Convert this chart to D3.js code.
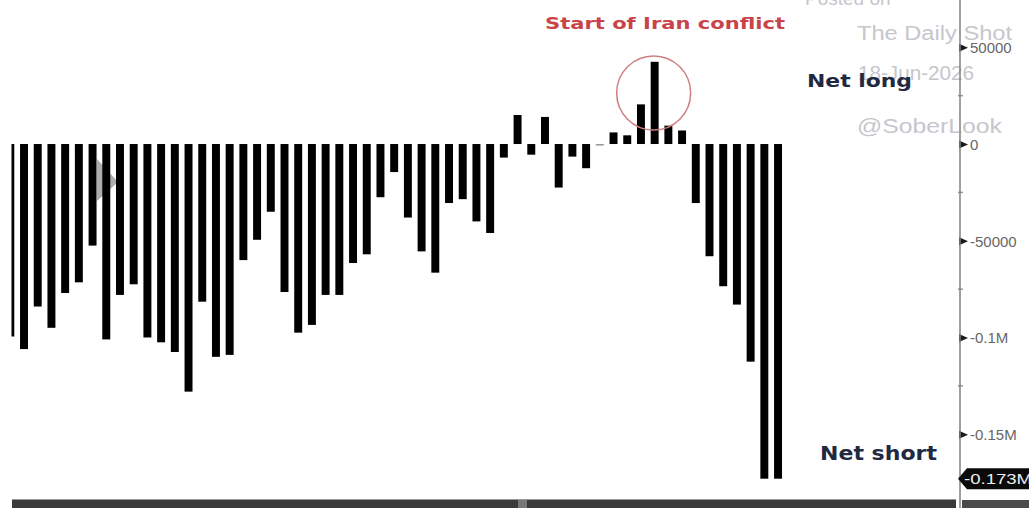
<!DOCTYPE html>
<html>
<head>
<meta charset="utf-8">
<script src="https://cdn.jsdelivr.net/npm/d3@7"></script>
<style>
    body { margin: 0; background: #fff; }
    svg { display: block; }
    .tick text { font-family: "Liberation Sans", Arial, sans-serif; }
</style>
</head>
<body>
<svg id="chart" width="1029" height="508"></svg>
<script>
// weekly net positioning (contracts)
var netPositions = [
    -99500, -106000, -84000, -95000, -77000, -71500, -52500, -101000, -78000, -72500,
    -100000, -102500, -107500, -128000, -81500, -110000, -109000, -60000, -49500, -35000,
    -76500, -97500, -93500, -78000, -78000, -61500, -57000, -27500, -14500, -38000,
    -55500, -66500, -30500, -28500, -40000, -46000, -7000, 15000, -5500, 14000,
    -22500, -6500, -12500, -800, 6000, 4500, 20500, 42500, 9500, 7000,
    -30500, -58000, -73500, -83000, -112500, -173000, -173000
];
var majorTicks = [50000, 0, -50000, -100000, -150000];
var tickLabels = ['50000', '0', '-50000', '-0.1M', '-0.15M'];
var minorTicks = [25000, -25000, -75000, -125000];
var lastLabel = '-0.173M';
var eventIndex = 47; // spike at start of conflict

var svg = d3.select('#chart');

var x = d3.scaleBand()
    .domain(d3.range(netPositions.length))
    .range([3.45, 784.9])
    .paddingInner(0.42)
    .paddingOuter(0.21);

var y = d3.scaleLinear()
    .domain([-150000, 50000])
    .range([434.2, 47.3]);

var axisX = 960;

svg.append('defs').append('clipPath')
    .attr('id', 'plotClip')
    .append('rect')
    .attr('x', 11.5).attr('y', 0)
    .attr('width', axisX - 11.5).attr('height', 508);

// watermark text
var wm = svg.append('g')
    .attr('fill', '#c6c6cc')
    .style('font-family', '"Liberation Sans", Arial, sans-serif');
wm.append('text').attr('x', 805).attr('y', 5).attr('font-size', 19).text('Posted on');
wm.append('text').attr('x', 857).attr('y', 40).attr('font-size', 20)
    .attr('textLength', 155).attr('lengthAdjust', 'spacingAndGlyphs').text('The Daily Shot');
wm.append('text').attr('x', 858).attr('y', 80).attr('font-size', 20)
    .attr('textLength', 116).attr('lengthAdjust', 'spacingAndGlyphs').text('18-Jun-2026');
wm.append('text').attr('x', 857).attr('y', 133).attr('font-size', 20)
    .attr('textLength', 145).attr('lengthAdjust', 'spacingAndGlyphs').text('@SoberLook');

var plot = svg.append('g').attr('clip-path', 'url(#plotClip)');

// faint play-arrow artefact behind the bars
plot.append('path')
    .attr('d', 'M97,159 L118,182 L97,201 Z')
    .attr('fill', '#8a8a8a')
    .attr('opacity', 0.7);

plot.selectAll('rect.bar')
    .data(netPositions)
    .enter()
    .append('rect')
    .attr('class', 'bar')
    .attr('x', function (d, i) { return x(i); })
    .attr('width', x.bandwidth())
    .attr('y', function (d) { return y(Math.max(0, d)); })
    .attr('height', function (d) { return Math.abs(y(d) - y(0)); })
    .attr('fill', function (d) { return Math.abs(d) < 2000 ? '#999' : '#000'; });

// annotation circle round the spike
svg.append('circle')
    .attr('cx', x(eventIndex) + x.bandwidth() / 2 - 1)
    .attr('cy', 93)
    .attr('r', 37)
    .attr('fill', 'none')
    .attr('stroke', '#cf7f80')
    .attr('stroke-width', 1.5);

svg.append('text')
    .attr('x', 545).attr('y', 29)
    .attr('fill', '#c9434b')
    .attr('font-size', 16)
    .attr('font-weight', 'bold')
    .attr('textLength', 240).attr('lengthAdjust', 'spacingAndGlyphs')
    .style('font-family', '"DejaVu Sans", Verdana, sans-serif')
    .text('Start of Iran conflict');

svg.append('text')
    .attr('x', 807).attr('y', 87)
    .attr('fill', '#1f2940')
    .attr('font-size', 18)
    .attr('font-weight', 'bold')
    .attr('textLength', 105).attr('lengthAdjust', 'spacingAndGlyphs')
    .style('font-family', '"DejaVu Sans", Verdana, sans-serif')
    .text('Net long');

svg.append('text')
    .attr('x', 820).attr('y', 460)
    .attr('fill', '#1f2940')
    .attr('font-size', 19)
    .attr('font-weight', 'bold')
    .attr('textLength', 117).attr('lengthAdjust', 'spacingAndGlyphs')
    .style('font-family', '"DejaVu Sans", Verdana, sans-serif')
    .text('Net short');

// bottom scroll strip
svg.append('rect')
    .attr('x', 12).attr('y', 500).attr('width', axisX - 16).attr('height', 8)
    .attr('fill', '#3a3a3a');
svg.append('line')
    .attr('x1', 12).attr('x2', axisX - 4).attr('y1', 499.5).attr('y2', 499.5)
    .attr('stroke', '#9a9a9a');
svg.append('rect')
    .attr('x', 518).attr('y', 500).attr('width', 9).attr('height', 8)
    .attr('fill', '#777');
svg.append('rect')
    .attr('x', axisX + 2).attr('y', 500).attr('width', 1029 - axisX).attr('height', 8)
    .attr('fill', '#4a4a4a');

// right axis
var axis = d3.axisRight(y)
    .tickValues(majorTicks)
    .tickFormat(function (d, i) { return tickLabels[i]; })
    .tickSize(0)
    .tickPadding(10);

var axisG = svg.append('g')
    .attr('transform', 'translate(' + axisX + ',0)')
    .call(axis);

axisG.select('.domain').remove();
axisG.selectAll('.tick text')
    .attr('fill', '#666')
    .attr('font-size', 15)
    .attr('dy', '0.35em');
axisG.selectAll('.tick')
    .append('path')
    .attr('d', 'M-1,-4 L8,0 L-1,4 Z')
    .attr('fill', '#1a1a1a');

axisG.selectAll('line.minor')
    .data(minorTicks)
    .enter()
    .append('line')
    .attr('class', 'minor')
    .attr('x1', -2).attr('x2', 3)
    .attr('y1', function (d) { return y(d); })
    .attr('y2', function (d) { return y(d); })
    .attr('stroke', '#999')
    .attr('stroke-width', 1.5);

svg.append('line')
    .attr('x1', axisX).attr('x2', axisX)
    .attr('y1', 0).attr('y2', 508)
    .attr('stroke', '#808080')
    .attr('stroke-width', 1.5);

// last value tag
var lastY = y(netPositions[netPositions.length - 1]);
svg.append('path')
    .attr('d', 'M' + (axisX - 2) + ',' + lastY + ' L' + (axisX + 7) + ',' + (lastY - 10.5) +
        ' L1029,' + (lastY - 10.5) + ' L1029,' + (lastY + 10.5) + ' L' + (axisX + 7) + ',' + (lastY + 10.5) + ' Z')
    .attr('fill', '#0a0a0a');
svg.append('text')
    .attr('x', axisX + 4).attr('y', lastY + 5)
    .attr('fill', '#eee')
    .attr('font-size', 14)
    .attr('textLength', 68).attr('lengthAdjust', 'spacingAndGlyphs')
    .style('font-family', '"Liberation Sans Narrow", "Liberation Sans", Arial, sans-serif')
    .text(lastLabel);
</script>
</body>
</html>
